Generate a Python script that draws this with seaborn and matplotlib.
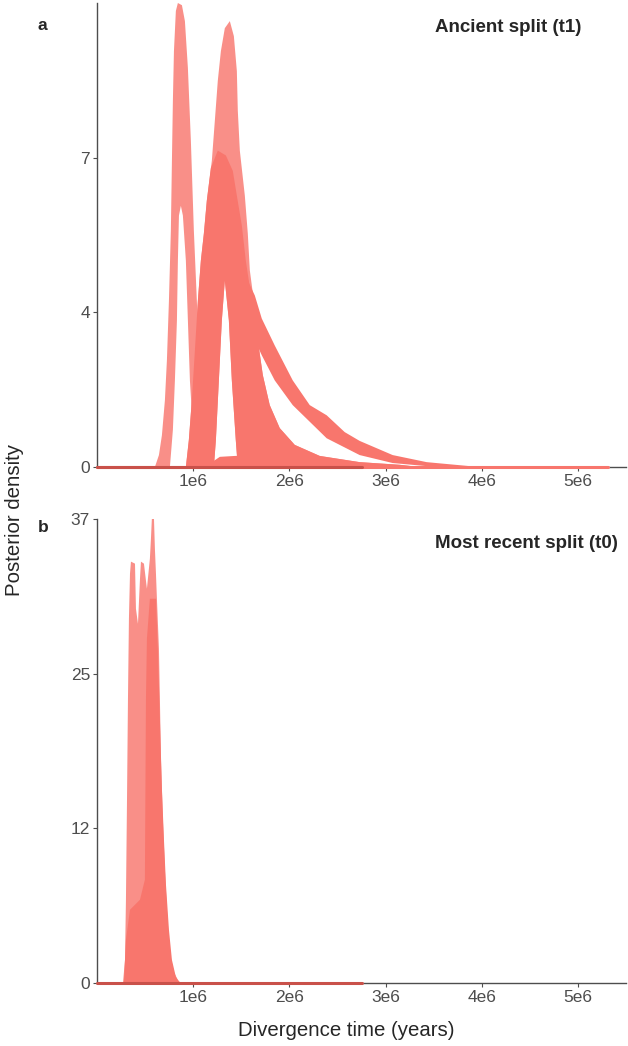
import numpy as np
import pandas as pd
import matplotlib
matplotlib.use("Agg")
import matplotlib.pyplot as plt
import seaborn as sns

# posterior density bands (x in units of 1e6 years)
# panel a: ancient split (t1)
a_narrow_x = [0.602, 0.644, 0.675, 0.706, 0.727, 0.748, 0.768, 0.779, 0.789, 0.800, 0.820, 0.841, 0.883,
              0.914, 0.945, 0.976, 1.007, 1.038, 1.059, 1.080, 1.111, 1.142, 1.180,
              1.028, 0.997, 0.966, 0.945, 0.924, 0.893, 0.872, 0.852, 0.841, 0.831, 0.810, 0.789, 0.758]
a_narrow_y = [0.0, 0.27, 0.72, 1.51, 2.42, 3.77, 5.35, 6.93, 8.28, 9.41, 10.32, 10.50, 10.45,
              10.09, 9.03, 7.38, 5.35, 3.77, 2.42, 1.28, 0.45, 0.11, 0.0,
              0.0, 0.84, 1.96, 3.32, 4.67, 5.69, 5.91, 5.69, 4.67, 3.32, 1.96, 0.84, 0.0]

# broad mass with the thin spike on top (sparse outline)
a_broad_x = [0.924, 0.955, 0.986, 1.018, 1.049, 1.080, 1.111, 1.142, 1.194, 1.225, 1.256, 1.288, 1.329,
             1.381, 1.423, 1.454, 1.464, 1.485, 1.537, 1.568, 1.589, 1.630,
             1.672, 1.724, 1.796, 1.900, 2.056, 2.316, 2.731, 3.146, 3.354,
             1.464, 1.443, 1.402, 1.371, 1.329, 1.298, 1.267, 1.236, 1.215]
a_broad_y = [0.0, 0.61, 1.51, 2.64, 3.77, 4.67, 5.28, 6.03, 6.93, 7.83, 8.74, 9.41, 9.93,
             10.09, 9.75, 8.96, 8.06, 7.16, 6.14, 5.28, 4.45, 3.77,
             2.87, 2.08, 1.40, 0.88, 0.50, 0.25, 0.11, 0.05, 0.0,
             0.0, 0.61, 1.96, 3.32, 4.22, 3.32, 1.96, 0.61, 0.0]

# dense core of the broad mass
a_core_x = [0.924, 0.955, 0.986, 1.018, 1.049, 1.080, 1.111, 1.142, 1.184, 1.256, 1.340, 1.412, 1.454,
            1.506, 1.547, 1.589, 1.630, 1.672, 1.724, 1.796, 1.900, 2.056, 2.316, 2.731, 3.146, 3.354,
            1.464, 1.443, 1.402, 1.371, 1.329, 1.298, 1.267, 1.236, 1.215]
a_core_y = [0.0, 0.61, 1.51, 2.64, 3.77, 4.67, 5.28, 6.03, 6.77, 7.16, 7.05, 6.70, 6.14,
            5.46, 4.67, 4.06, 3.43, 2.87, 2.08, 1.40, 0.88, 0.50, 0.25, 0.11, 0.05, 0.0,
            0.0, 0.61, 1.96, 3.32, 4.22, 3.32, 1.96, 0.61, 0.0]

a_tail_x = [1.568, 1.641, 1.713, 1.848, 2.035, 2.212, 2.388, 2.575, 2.731, 3.074, 3.427, 3.873, 4.390,
            3.427, 3.074, 2.731, 2.388, 2.035, 1.848, 1.713, 1.641, 1.590]
a_tail_y = [4.22, 3.88, 3.36, 2.75, 1.96, 1.40, 1.17, 0.79, 0.59, 0.27, 0.11, 0.02, 0.0,
            0.02, 0.09, 0.27, 0.65, 1.40, 1.96, 2.53, 2.87, 3.30]

a_low_x = [1.121, 1.277, 1.589, 2.108, 2.523, 2.762, 2.762]
a_low_y = [0.0, 0.23, 0.27, 0.23, 0.14, 0.05, 0.0]

# panel b: most recent split (t0)
b_outer_x = [0.270, 0.291, 0.301, 0.312, 0.322, 0.332, 0.343, 0.353, 0.395, 0.405, 0.426, 0.447, 0.457,
             0.488, 0.519, 0.550, 0.561, 0.571, 0.592, 0.602, 0.613, 0.623, 0.644, 0.654, 0.665,
             0.685, 0.706, 0.727, 0.748, 0.768, 0.799, 0.841, 0.872]
b_outer_y = [0.0, 1.84, 6.64, 14.64, 22.64, 29.04, 32.64, 33.60, 33.44, 29.84, 28.64, 32.24, 33.60,
             33.44, 31.44, 33.84, 35.44, 37.12, 37.12, 34.64, 32.64, 30.64, 26.64, 22.64, 17.84,
             13.04, 9.04, 5.84, 3.44, 2.00, 0.88, 0.24, 0.0]

b_core_x = [0.280, 0.301, 0.343, 0.447, 0.498, 0.509, 0.519, 0.550, 0.613, 0.633, 0.654, 0.675,
            0.696, 0.717, 0.748, 0.779, 0.820, 0.862]
b_core_y = [0.0, 3.44, 5.84, 6.64, 8.24, 22.64, 27.44, 30.64, 30.64, 26.64, 21.04, 15.44,
            11.44, 7.84, 4.24, 1.84, 0.48, 0.0]

# points sitting on zero density
zero_dense_end = 2.76
zero_light_end = 5.31

x_ticks = [1, 2, 3, 4, 5]
x_labels = ["1e6", "2e6", "3e6", "4e6", "5e6"]
a_ticks = [0, 3.5, 7.0]
a_labels = ["0", "4", "7"]
b_ticks = [0, 37 / 3, 74 / 3, 37]
b_labels = ["0", "12", "25", "37"]

sns.set_theme(style="ticks")
plt.rcParams["font.family"] = ["Liberation Sans", "DejaVu Sans"]

red = "#F8766D"
pale = "#F98F88"
dark = "#C9514A"
axis_col = "#4D4D4D"

fig = plt.figure(figsize=(6.28, 10.46), dpi=100)
W, H = 628, 1046
ax_a = fig.add_axes([97 / W, 1 - 467 / H, 529 / W, 464 / H])
ax_b = fig.add_axes([97 / W, 1 - 983 / H, 529 / W, 464 / H])

def fill(ax, xs, ys, color):
    ax.fill(np.array(xs) * 1e6, ys, color=color, lw=0)

# sparse parts of the point cloud in a lighter shade, dense parts full colour
fill(ax_a, a_narrow_x, a_narrow_y, pale)
fill(ax_a, a_broad_x, a_broad_y, pale)
fill(ax_a, a_core_x, a_core_y, red)
fill(ax_a, a_tail_x, a_tail_y, red)
fill(ax_a, a_low_x, a_low_y, red)

fill(ax_b, b_outer_x, b_outer_y, pale)
fill(ax_b, b_core_x, b_core_y, red)

zero_a = pd.DataFrame({"x": [0, zero_dense_end * 1e6], "y": [0, 0]})
sns.lineplot(data=pd.DataFrame({"x": [0, zero_light_end * 1e6], "y": [0, 0]}), x="x", y="y",
             ax=ax_a, color=red, lw=2.2, clip_on=False)
sns.lineplot(data=zero_a, x="x", y="y", ax=ax_a, color=dark, lw=2.2, clip_on=False)
sns.lineplot(data=zero_a, x="x", y="y", ax=ax_b, color=dark, lw=2.2, clip_on=False)

for ax, yt, yl, ymax in [(ax_a, a_ticks, a_labels, 10.5), (ax_b, b_ticks, b_labels, 37)]:
    ax.set_xlim(0, 5.5e6)
    ax.set_ylim(0, ymax)
    ax.set_xticks([v * 1e6 for v in x_ticks])
    ax.set_xticklabels(x_labels)
    ax.set_yticks(yt)
    ax.set_yticklabels(yl)
    ax.set_xlabel("")
    ax.set_ylabel("")
    sns.despine(ax=ax)
    for s in ["left", "bottom"]:
        ax.spines[s].set_color(axis_col)
        ax.spines[s].set_linewidth(1.0)
        ax.spines[s].set_zorder(1)
    ax.tick_params(colors=axis_col, labelcolor=axis_col, labelsize=12.5, length=3, width=0.8, pad=2)

fig.text(38 / W, 1 - 25 / H, "a", fontsize=12.5, fontweight="bold", ha="left", va="center")
fig.text(38 / W, 1 - 528 / H, "b", fontsize=12.5, fontweight="bold", ha="left", va="center")
fig.text(435 / W, 1 - 27 / H, "Ancient split (t1)", fontsize=13.5, fontweight="bold", ha="left", va="center")
fig.text(435 / W, 1 - 543 / H, "Most recent split (t0)", fontsize=13.5, fontweight="bold", ha="left", va="center")
fig.text(15 / W, 1 - 520 / H, "Posterior density", fontsize=14.7, rotation=90, ha="center", va="center")
fig.text(346 / W, 1 - 1030 / H, "Divergence time (years)", fontsize=14.7, ha="center", va="center")

fig.savefig("out.png", dpi=100)
